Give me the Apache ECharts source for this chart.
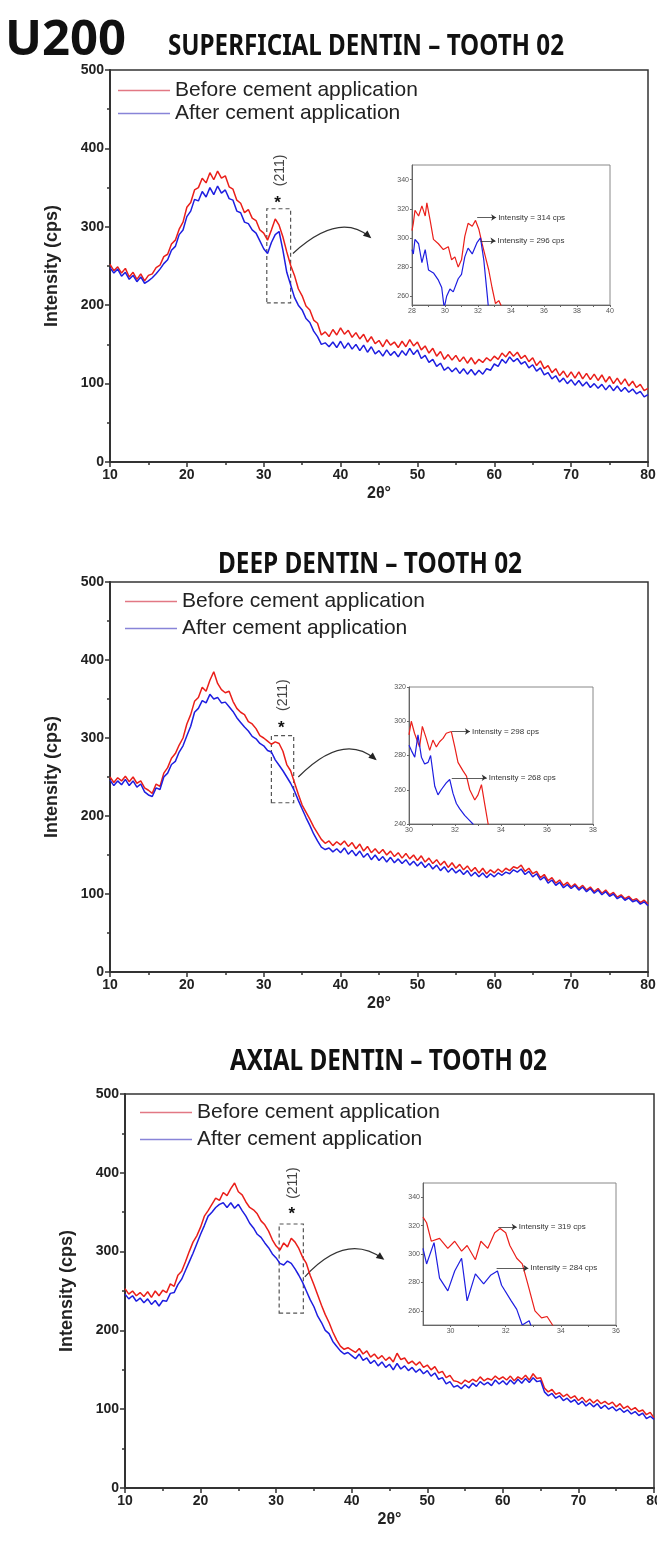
<!DOCTYPE html>
<html>
<head>
<meta charset="utf-8">
<title>U200 - XRD</title>
<script src="https://cdn.jsdelivr.net/npm/echarts@6/dist/echarts.min.js"></script>
<style>
html, body { margin: 0; padding: 0; background: #fff; }
#main { width: 657px; height: 1548px; }
</style>
</head>
<body>
<div id="main"></div>
<script>
// 2θ sampling of the main scans (degrees)
const angles = [
  10,10.5,11,11.5,12,12.5,13,13.5,14,14.5,
  15,15.5,16,16.5,17,17.5,18,18.5,19,19.5,
  20,20.5,21,21.5,22,22.5,23,23.5,24,24.5,
  25,25.5,26,26.5,27,27.5,28,28.5,29,29.5,
  30,30.5,31,31.5,32,32.5,33,33.5,34,34.5,
  35,35.5,36,36.5,37,37.5,38,38.5,39,39.5,
  40,40.5,41,41.5,42,42.5,43,43.5,44,44.5,
  45,45.5,46,46.5,47,47.5,48,48.5,49,49.5,
  50,50.5,51,51.5,52,52.5,53,53.5,54,54.5,
  55,55.5,56,56.5,57,57.5,58,58.5,59,59.5,
  60,60.5,61,61.5,62,62.5,63,63.5,64,64.5,
  65,65.5,66,66.5,67,67.5,68,68.5,69,69.5,
  70,70.5,71,71.5,72,72.5,73,73.5,74,74.5,
  75,75.5,76,76.5,77,77.5,78,78.5,79,79.5,
  80
];

// superficial dentin (cps)
const superBefore = [
  252,244,249,241,247,236,242,233,240,231,
  238,240,248,251,262,265,278,283,297,306,
  325,331,347,350,362,356,369,360,371,362,
  365,351,348,334,330,318,322,311,308,296,
  292,283,296,310,302,287,268,251,238,221,
  212,199,194,181,177,162,166,160,169,162,
  171,163,168,159,165,157,163,153,160,151,
  155,147,156,149,153,146,154,147,156,148,
  153,143,148,139,145,135,141,131,137,130,
  136,128,134,126,133,125,131,127,133,129,
  135,131,139,134,141,135,140,132,136,128,
  133,123,129,119,123,114,119,110,116,108,
  115,107,115,106,113,105,112,104,111,102,
  109,100,107,99,106,97,103,95,99,91,
  94
];
const superAfter = [
  248,241,246,237,242,233,238,230,236,228,
  231,235,240,246,253,258,270,275,290,296,
  313,320,335,333,345,338,350,341,352,343,
  347,336,334,320,318,306,304,296,292,282,
  272,266,280,290,294,270,242,226,210,200,
  194,183,178,167,160,150,152,147,153,146,
  154,145,152,144,150,142,149,140,147,138,
  142,135,143,136,141,134,142,136,145,137,
  143,132,136,127,131,122,126,117,121,115,
  120,113,119,112,118,111,117,112,119,117,
  125,122,131,126,134,128,132,125,128,120,
  124,116,120,111,114,106,110,102,107,100,
  105,98,104,97,102,95,100,94,99,92,
  98,91,97,90,95,89,93,87,90,83,
  86
];

// deep dentin (cps)
const deepBefore = [
  250,243,249,245,251,244,250,242,245,236,
  233,229,241,238,255,262,274,280,291,300,
  318,330,347,352,365,360,374,385,370,362,
  358,360,347,338,333,330,321,318,312,303,
  300,296,292,295,293,283,266,258,243,228,
  214,205,196,186,178,170,165,168,162,167,
  163,168,161,166,158,164,155,161,153,158,
  152,157,150,155,148,153,146,152,145,150,
  143,149,141,146,139,144,137,142,134,140,
  133,138,131,136,129,134,127,133,126,131,
  127,132,128,133,130,135,133,137,129,133,
  126,129,121,125,117,121,114,118,111,115,
  109,113,107,111,105,109,103,107,101,105,
  99,102,96,99,94,97,92,94,89,92,
  87
];
const deepAfter = [
  246,239,245,240,247,239,245,237,241,231,
  227,225,236,234,250,255,266,270,282,290,
  303,315,333,338,348,345,356,350,352,345,
  346,340,334,326,320,314,309,302,299,293,
  290,284,282,272,265,258,250,242,232,220,
  209,198,188,177,168,160,157,159,154,158,
  153,159,151,156,149,155,147,152,144,150,
  143,148,141,147,140,145,139,144,137,142,
  136,141,134,139,132,137,130,135,128,133,
  127,131,125,130,123,128,122,127,121,126,
  122,127,124,128,126,131,128,132,125,129,
  122,126,118,122,114,118,111,115,108,112,
  107,111,105,109,103,107,101,105,99,103,
  97,100,94,97,92,95,90,92,87,90,
  85
];

// axial dentin (cps)
const axialBefore = [
  253,246,250,244,248,243,249,242,250,244,
  251,248,259,256,270,275,287,300,312,320,
  331,345,352,360,368,365,375,371,380,387,
  376,372,363,356,353,348,339,334,326,315,
  307,302,311,306,317,312,304,293,285,270,
  258,245,232,220,210,198,188,180,176,178,
  175,172,177,170,174,166,170,164,168,162,
  166,160,171,163,165,158,161,156,160,153,
  156,150,154,146,148,140,143,136,135,132,
  137,134,138,135,141,136,139,137,142,138,
  141,137,142,136,141,138,143,137,145,139,
  140,127,122,125,119,121,116,119,114,117,
  111,115,109,113,108,112,107,110,106,109,
  103,107,101,104,99,102,97,99,93,96,
  89
];
const axialAfter = [
  246,240,244,237,241,235,240,233,238,231,
  238,237,247,248,258,265,276,287,298,310,
  322,333,345,350,356,360,362,356,362,355,
  360,352,345,336,330,322,318,311,305,297,
  292,285,283,288,285,278,270,261,250,239,
  230,218,210,200,196,186,180,174,170,172,
  168,164,170,162,165,158,162,155,160,153,
  157,150,158,151,155,149,153,147,151,145,
  149,142,146,138,140,132,135,128,130,126,
  131,127,133,129,135,131,134,130,137,132,
  136,131,137,132,138,133,139,134,140,135,
  136,122,117,120,114,117,111,114,109,112,
  106,110,104,108,103,107,101,105,100,103,
  98,101,96,99,94,97,92,95,88,91,
  87
];

// zoomed insets around the (211) reflection
const superZoomRedX = [28,28.08,28.18,28.4,28.6,28.8,28.9,29.1,29.3,29.6,29.9,30.2,30.4,30.6,30.8,31,31.2,31.4,31.65,31.85,32.05,32.25,32.45,32.65,32.85,33.06,33.26,33.47,33.6];
const superZoomRedY = [305,310,319,315,322,315,324,312,299,296,292,294,285,287,280,285,301,310,308,312,306,296,287,278,266,255,257,252,248];
const superZoomBlueX = [28,28.08,28.18,28.4,28.6,28.8,29,29.3,29.6,29.8,29.95,30.1,30.3,30.5,30.8,31,31.2,31.4,31.65,31.95,32.15,32.35,32.55,32.65];
const superZoomBlueY = [292,289,299,296,283,292,278,276,271,266,252,260,265,263,272,275,287,293,289,297,300,285,262,250];

const deepZoomRedX = [30,30.1,30.24,30.46,30.58,30.75,30.9,31.04,31.19,31.33,31.48,31.62,31.84,31.99,32.13,32.35,32.5,32.64,32.86,33,33.15,33.3,33.44,33.55];
const deepZoomRedY = [292,300,293,285,297,290,283,289,285,288,290,293,294,285,276,271,268,260,254,257,263,251,240,235];
const deepZoomBlueX = [30,30.1,30.25,30.39,30.54,30.68,30.83,30.94,31.12,31.26,31.4,31.62,31.77,31.91,32.06,32.2,32.42,32.64,32.78,32.9];
const deepZoomBlueY = [286,283,279,292,279,275,276,280,262,257,260,264,266,258,252,249,245,242,240,236];

const axialZoomRedX = [29,29.13,29.3,29.6,29.9,30.15,30.4,30.6,30.9,31.1,31.35,31.6,31.8,32,32.15,32.4,32.6,32.8,33.06,33.3,33.5,33.7,33.9];
const axialZoomRedY = [326,322,309,311,304,309,302,306,296,309,304,315,318,315,306,297,293,279,260,255,256,250,245];
const axialZoomBlueX = [29,29.13,29.4,29.6,29.9,30.15,30.4,30.6,30.9,31.2,31.45,31.7,31.85,32.2,32.4,32.6,32.85,33];
const axialZoomBlueY = [304,293,308,283,274,288,297,267,286,279,285,288,278,267,261,250,253,245];

// peak intensities annotated in the insets
const peakLabels = [
  ['Intensity = 314 cps', 'Intensity = 296 cps'],
  ['Intensity = 298 cps', 'Intensity = 268 cps'],
  ['Intensity = 319 cps', 'Intensity = 284 cps']
];

const mainTicks = [0, 100, 200, 300, 400, 500];
const NAME_BEFORE = 'Before cement application';
const NAME_AFTER = 'After cement application';
const RED = '#ea1f1a';
const BLUE = '#1e1ee0';
const FONT = '"Liberation Sans", Arial, sans-serif';
const TITLE_FONT = '"Noto Sans", "Open Sans", sans-serif';

// layout of the three panels
const panels = [
  {
    title: 'SUPERFICIAL DENTIN – TOOTH 02', titleBox: [168, 47.5, 396],
    grid: { left: 110, top: 70, width: 538, height: 392 },
    legend: { left: 118, top: 80, gap: 2 },
    inset: { left: 412, top: 165, width: 198, height: 140 },
    insetX: { min: 28, max: 40, labels: [28, 30, 32, 34, 36, 38, 40], ticks: [28, 29, 30, 31, 32, 33, 34, 35, 36, 37, 38, 39, 40] },
    insetY: { min: 254, max: 350, labels: [260, 280, 300, 320, 340] },
    zoom: [superZoomRedX, superZoomRedY, superZoomBlueX, superZoomBlueY],
    main: [superBefore, superAfter],
    arrows: [[31.95, 314, 33.1], [32.15, 298, 33.06]],
    box: [30.4, 203, 33.5, 323], star: [31.8, 330], hkl: [32.1, 372],
    curve: { from: [33.8, 266], ctrl: [39.8, 320], to: [43.8, 287] }
  },
  {
    title: 'DEEP DENTIN – TOOTH 02', titleBox: [218, 565, 304],
    grid: { left: 110, top: 582, width: 538, height: 390 },
    legend: { left: 125, top: 591, gap: 6 },
    inset: { left: 409, top: 687, width: 184, height: 137 },
    insetX: { min: 30, max: 38, labels: [30, 32, 34, 36, 38], ticks: [30, 31, 32, 33, 34, 35, 36, 37, 38] },
    insetY: { min: 240, max: 320, labels: [240, 260, 280, 300, 320] },
    zoom: [deepZoomRedX, deepZoomRedY, deepZoomBlueX, deepZoomBlueY],
    main: [deepBefore, deepAfter],
    arrows: [[31.86, 294, 32.65], [31.86, 267, 33.38]],
    box: [31.0, 217, 33.9, 303], star: [32.3, 313], hkl: [32.5, 355],
    curve: { from: [34.5, 250], ctrl: [40.3, 308], to: [44.5, 273] }
  },
  {
    title: 'AXIAL DENTIN – TOOTH 02', titleBox: [230, 1062, 317],
    grid: { left: 125, top: 1094, width: 529, height: 394 },
    legend: { left: 140, top: 1102, gap: 6 },
    inset: { left: 423, top: 1183, width: 193, height: 142 },
    insetX: { min: 29, max: 36, labels: [30, 32, 34, 36], ticks: [30, 31, 32, 33, 34, 35, 36] },
    insetY: { min: 250, max: 350, labels: [260, 280, 300, 320, 340] },
    zoom: [axialZoomRedX, axialZoomRedY, axialZoomBlueX, axialZoomBlueY],
    main: [axialBefore, axialAfter],
    arrows: [[31.73, 319, 32.4], [31.67, 290, 32.82]],
    box: [30.4, 222, 33.6, 335], star: [32.06, 347], hkl: [32.2, 387],
    curve: { from: [33.8, 268], ctrl: [39.25, 325], to: [44.1, 291] }
  }
];

function pairs(xs, ys) {
  return xs.map((x, i) => [x, ys[i]]);
}

const grids = [];
const xAxes = [];
const yAxes = [];
const series = [];
const legends = [];

// main plots
panels.forEach((p, i) => {
  grids.push(Object.assign({ show: true, borderColor: '#333', borderWidth: 1.5, outerBoundsMode: 'none', containLabel: false }, p.grid));
  legends.push({
    orient: 'vertical', left: p.legend.left, top: p.legend.top, padding: 0,
    icon: 'rect', itemWidth: 52, itemHeight: 1.5, itemGap: p.legend.gap, selectedMode: false,
    textStyle: { fontSize: 21, color: '#222', fontFamily: FONT },
    data: [
      { name: NAME_BEFORE, itemStyle: { color: '#e27884' } },
      { name: NAME_AFTER, itemStyle: { color: '#8884d8' } }
    ]
  });
  xAxes.push({
    gridIndex: i, type: 'value', min: 10, max: 80, interval: 10,
    name: '2θ°', nameLocation: 'middle', nameGap: 24,
    nameTextStyle: { fontSize: 16, fontWeight: 'bold', color: '#222', fontFamily: FONT },
    axisLine: { onZero: false, lineStyle: { color: '#333', width: 2 } },
    axisTick: { length: 5, lineStyle: { color: '#333', width: 1.5 } },
    minorTick: { show: true, splitNumber: 2, length: 3, lineStyle: { color: '#333', width: 1.5 } },
    axisLabel: { fontSize: 14, fontWeight: 'bold', color: '#222', margin: 6, fontFamily: FONT },
    splitLine: { show: false }
  });
  yAxes.push({
    gridIndex: i, type: 'value', min: 0, max: 500, interval: 100,
    name: 'Intensity (cps)', nameLocation: 'middle', nameGap: 49,
    nameTextStyle: { fontSize: 18, fontWeight: 'bold', color: '#222', fontFamily: FONT },
    axisLine: { onZero: false, lineStyle: { color: '#333', width: 2 } },
    axisTick: { length: 5, lineStyle: { color: '#333', width: 1.5 } },
    minorTick: { show: true, splitNumber: 2, length: 3, lineStyle: { color: '#333', width: 1.5 } },
    axisLabel: { fontSize: 14, fontWeight: 'bold', color: '#222', margin: 6, fontFamily: FONT,
      customValues: mainTicks },
    splitLine: { show: false }
  });
  series.push({
    name: NAME_BEFORE, type: 'line', xAxisIndex: i, yAxisIndex: i,
    data: pairs(angles, p.main[0]), symbol: 'none', silent: true,
    lineStyle: { color: RED, width: 1.5 }, itemStyle: { color: RED },
    markArea: {
      silent: true,
      itemStyle: { color: 'rgba(0,0,0,0)', borderColor: '#555', borderWidth: 1.2, borderType: [4, 3] },
      label: { show: false },
      data: [[{ coord: [p.box[0], p.box[1]] }, { coord: [p.box[2], p.box[3]] }]]
    },
    markPoint: {
      silent: true, symbol: 'circle', symbolSize: 1, itemStyle: { color: 'rgba(0,0,0,0)' },
      data: [
        { coord: p.star, label: { show: true, formatter: '*', fontSize: 17, fontWeight: 'bold', color: '#111', fontFamily: FONT } },
        { coord: p.hkl, label: { show: true, formatter: '(211)', rotate: 90, fontSize: 14, color: '#444', fontFamily: FONT } }
      ]
    }
  });
  series.push({
    name: NAME_AFTER, type: 'line', xAxisIndex: i, yAxisIndex: i,
    data: pairs(angles, p.main[1]), symbol: 'none', silent: true,
    lineStyle: { color: BLUE, width: 1.5 }, itemStyle: { color: BLUE }
  });
});

// insets
panels.forEach((p, k) => {
  const gi = 3 + k;
  grids.push(Object.assign({ show: true, borderColor: '#888', borderWidth: 1, outerBoundsMode: 'none', containLabel: false, backgroundColor: '#fff' }, p.inset));
  xAxes.push({
    gridIndex: gi, type: 'value', min: p.insetX.min, max: p.insetX.max,
    axisLine: { onZero: false, lineStyle: { color: '#666', width: 1 } },
    axisTick: { length: 2, customValues: p.insetX.ticks, lineStyle: { color: '#666' } },
    axisLabel: { fontSize: 7, color: '#555', margin: 3, fontFamily: FONT, customValues: p.insetX.labels },
    splitLine: { show: false }
  });
  yAxes.push({
    gridIndex: gi, type: 'value', min: p.insetY.min, max: p.insetY.max,
    axisLine: { onZero: false, lineStyle: { color: '#666', width: 1 } },
    axisTick: { length: 2, customValues: p.insetY.labels, lineStyle: { color: '#666' } },
    axisLabel: { fontSize: 7, color: '#555', margin: 3, fontFamily: FONT, customValues: p.insetY.labels },
    splitLine: { show: false }
  });
  const arrowMark = (a, text) => ([
    { coord: [a[0], a[1]], symbol: 'none' },
    { coord: [a[2], a[1]], symbol: 'arrow', label: { formatter: text } }
  ]);
  series.push({
    name: NAME_BEFORE, type: 'line', xAxisIndex: gi, yAxisIndex: gi,
    data: pairs(p.zoom[0], p.zoom[1]), symbol: 'none', silent: true, clip: true,
    lineStyle: { color: RED, width: 1.2 }, itemStyle: { color: RED },
    markLine: {
      silent: true, symbol: ['none', 'arrow'], symbolSize: 5,
      lineStyle: { color: '#333', width: 0.8, type: 'solid' },
      label: { show: true, position: 'end', distance: 2, fontSize: 8, color: '#333', fontFamily: FONT },
      data: [arrowMark(p.arrows[0], peakLabels[k][0]), arrowMark(p.arrows[1], peakLabels[k][1])]
    }
  });
  series.push({
    name: NAME_AFTER, type: 'line', xAxisIndex: gi, yAxisIndex: gi,
    data: pairs(p.zoom[2], p.zoom[3]), symbol: 'none', silent: true, clip: true,
    lineStyle: { color: BLUE, width: 1.2 }, itemStyle: { color: BLUE }
  });
});

const chart = echarts.init(document.getElementById('main'));
chart.setOption({
  animation: false,
  backgroundColor: '#fff',
  title: {
    text: 'U200', left: 5, top: 17, padding: 0,
    textStyle: { fontSize: 49, fontWeight: 'bold', color: '#111', fontFamily: '"Noto Sans", sans-serif' }
  },
  legend: legends,
  grid: grids,
  xAxis: xAxes,
  yAxis: yAxes,
  series: series
});

// panel titles squeezed to the width of the original narrow face
const measure = document.createElement('canvas').getContext('2d');
const titleFont = 'bold 28px ' + TITLE_FONT;
measure.font = titleFont;
const graphics = [];
panels.forEach((p, i) => {
  const w = measure.measureText(p.title).width;
  graphics.push({
    type: 'text', silent: true,
    x: p.titleBox[0], y: p.titleBox[1], scaleX: p.titleBox[2] / w,
    style: { text: p.title, font: titleFont, fill: '#111', align: 'left', verticalAlign: 'middle' }
  });

  // curved arrow from the dashed box to the inset
  const a = chart.convertToPixel({ gridIndex: i }, p.curve.from);
  const c = chart.convertToPixel({ gridIndex: i }, p.curve.ctrl);
  const b = chart.convertToPixel({ gridIndex: i }, p.curve.to);
  graphics.push({
    type: 'bezierCurve', silent: true,
    shape: { x1: a[0], y1: a[1], cpx1: c[0], cpy1: c[1], x2: b[0], y2: b[1] },
    style: { stroke: '#333', lineWidth: 1.2, fill: null }
  });
  const ang = Math.atan2(b[1] - c[1], b[0] - c[0]);
  const cos = Math.cos(ang), sin = Math.sin(ang);
  const tip = [b[0] + 2 * cos, b[1] + 2 * sin];
  const bx = b[0] - 6 * cos, by = b[1] - 6 * sin;
  graphics.push({
    type: 'polygon', silent: true,
    shape: { points: [tip, [bx - 3.5 * sin, by + 3.5 * cos], [bx + 3.5 * sin, by - 3.5 * cos]] },
    style: { fill: '#222' }
  });
});
chart.setOption({ graphic: graphics });
</script>
</body>
</html>
